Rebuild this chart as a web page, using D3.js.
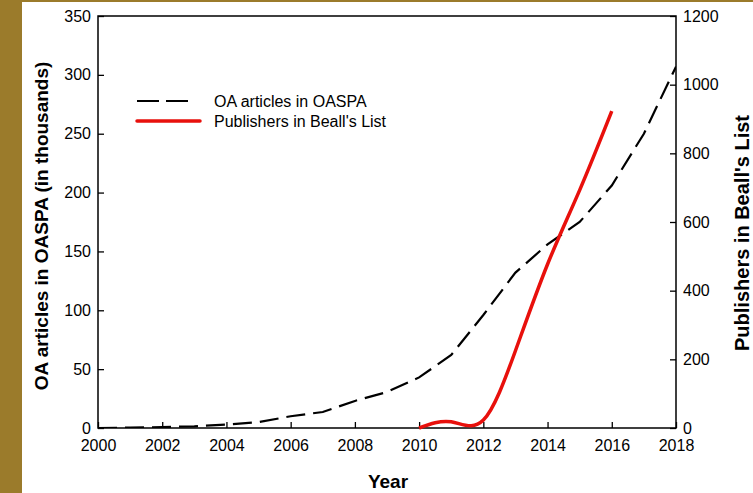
<!DOCTYPE html>
<html><head><meta charset="utf-8">
<script src="https://cdn.jsdelivr.net/npm/d3@7"></script>
<style>body{margin:0;background:#fff}svg{display:block}text{font-family:"Liberation Sans",Arial,sans-serif}</style>
</head><body><svg id="c" width="753" height="493"></svg>
<script>
const years = [2000,2001,2002,2003,2004,2005,2006,2007,2008,2009,2010,2011,2012,2013,2014,2015,2016,2017,2018];
const oaArticles = [0,0.3,0.8,1.4,2.9,5,10,13.6,23,30.6,43,62,96,132,156,175,206,250,307];
const bealYears = [2010,2011,2012,2013,2014,2015,2016];
const bealPublishers = [0,18,23,225,477,693,923];
const xTicks = [2000,2002,2004,2006,2008,2010,2012,2014,2016,2018];
const leftTicks = [0,50,100,150,200,250,300,350];
const rightTicks = [0,200,400,600,800,1000,1200];

const svg = d3.select("#c");
svg.append("rect").attr("x",0).attr("y",0).attr("width",753).attr("height",2).attr("fill","#9b7b2b");
svg.append("rect").attr("x",0).attr("y",0).attr("width",22).attr("height",493).attr("fill","#9b7b2b");

const L=98, R=676, T=16, B=428;
const x = d3.scaleLinear().domain([2000,2018]).range([L,R]);
const yL = d3.scaleLinear().domain([0,350]).range([B,T]);
const yR = d3.scaleLinear().domain([0,1200]).range([B,T]);

svg.append("path").attr("d",`M${L},${T}H${R}V${B}H${L}Z`).attr("fill","none").attr("stroke","#000").attr("stroke-width",1.5);

const fs = "16px";
const fmt = d3.format("d");
function style(g){
  g.select(".domain").remove();
  g.attr("font-family",null).attr("font-size",null);
  g.selectAll("line").attr("stroke","#000").attr("stroke-width",1.3);
  g.selectAll("text").attr("font-size",fs).attr("fill","#000");
}
const gx = svg.append("g").attr("transform",`translate(0,${B})`)
  .call(d3.axisTop(x).tickValues(xTicks).tickSize(6).tickFormat(fmt));
style(gx);
gx.selectAll("text").attr("y",17).attr("dy","0.35em");

const gl = svg.append("g").attr("transform",`translate(${L},0)`)
  .call(d3.axisRight(yL).tickValues(leftTicks).tickSize(6).tickFormat(fmt));
style(gl);
gl.selectAll("text").attr("x",-7).attr("text-anchor","end");

const gr = svg.append("g").attr("transform",`translate(${R},0)`)
  .call(d3.axisLeft(yR).tickValues(rightTicks).tickSize(6).tickFormat(fmt));
style(gr);
gr.selectAll("text").attr("x",7).attr("text-anchor","start");

svg.append("clipPath").attr("id","cp").append("rect").attr("x",L).attr("y",T-2).attr("width",R-L).attr("height",B-T+2);
const oaLine = d3.line().x((d,i)=>x(years[i])).y(d=>yL(d));
svg.append("path").datum(oaArticles).attr("d",oaLine).attr("fill","none")
  .attr("stroke","#000").attr("stroke-width",2.2).attr("stroke-dasharray","19,8").attr("clip-path","url(#cp)");
const bLine = d3.line().curve(d3.curveNatural).x((d,i)=>x(bealYears[i])).y(d=>yR(d));
svg.append("path").datum(bealPublishers).attr("d",bLine).attr("fill","none")
  .attr("stroke","#e8100c").attr("stroke-width",3.5);

svg.append("line").attr("x1",137).attr("x2",190).attr("y1",101).attr("y2",101)
  .attr("stroke","#000").attr("stroke-width",2.2).attr("stroke-dasharray","22,7");
svg.append("line").attr("x1",137).attr("x2",200).attr("y1",121).attr("y2",121)
  .attr("stroke","#e8100c").attr("stroke-width",3.5).attr("stroke-linecap","round");
svg.append("text").attr("x",214).attr("y",101).attr("dy","0.35em").attr("font-size",fs).text("OA articles in OASPA");
svg.append("text").attr("x",214).attr("y",121).attr("dy","0.35em").attr("font-size",fs).text("Publishers in Beall's List");

svg.append("text").attr("x",388).attr("y",481).attr("dy","0.35em").attr("text-anchor","middle")
  .attr("font-size","19px").attr("font-weight","bold").text("Year");
svg.append("text").attr("transform","translate(41,226) rotate(-90)").attr("dy","0.35em").attr("text-anchor","middle")
  .attr("font-size","19px").attr("font-weight","bold").text("OA articles in OASPA (in thousands)");
svg.append("text").attr("transform","translate(742,233) rotate(-90)").attr("dy","0.35em").attr("text-anchor","middle")
  .attr("font-size","20px").attr("font-weight","bold").text("Publishers in Beall's List");
</script></body></html>
